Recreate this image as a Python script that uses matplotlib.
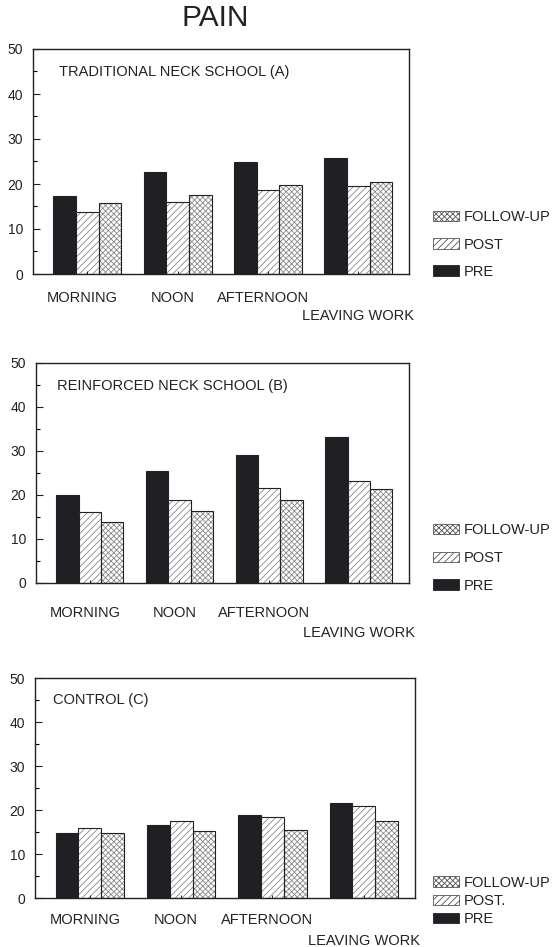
import matplotlib
matplotlib.use("Agg")
import matplotlib.pyplot as plt
from matplotlib.patches import Patch
import numpy as np

plt.rcParams['font.family'] = ['Liberation Sans', 'DejaVu Sans']
plt.rcParams['hatch.linewidth'] = 0.6

# ---- data ----
title = "PAIN"
categories = ["MORNING", "NOON", "AFTERNOON", "LEAVING WORK"]
panel_titles = ["TRADITIONAL NECK SCHOOL (A)", "REINFORCED NECK SCHOOL (B)", "CONTROL (C)"]
series_names = ["PRE", "POST", "FOLLOW-UP"]
post_labels = ["POST", "POST", "POST."]

pre_a = [17.3, 22.6, 24.8, 25.8]
post_a = [13.7, 15.9, 18.6, 19.6]
fu_a = [15.8, 17.6, 19.7, 20.5]

pre_b = [19.9, 25.5, 29.2, 33.2]
post_b = [16.2, 18.8, 21.5, 23.2]
fu_b = [13.9, 16.4, 18.9, 21.3]

pre_c = [14.7, 16.6, 18.8, 21.7]
post_c = [15.8, 17.4, 18.5, 21.0]
fu_c = [14.7, 15.2, 15.4, 17.5]

yticks = [0, 10, 20, 30, 40, 50]

# ---- layout ----
W, H = 552, 947
fig = plt.figure(figsize=(W / 100, H / 100), dpi=100)

def fbox(l, t, r, b):
    return [l / W, 1 - b / H, (r - l) / W, (b - t) / H]

axes_boxes = [fbox(33, 49, 409, 274), fbox(36, 363, 409, 583), fbox(35, 678, 415, 898)]
title_offsets = [(26, 23), (21, 23), (18, 22)]          # px from top-left of axes
label_gaps = [(24, 42), (30, 50), (22, 43)]               # px below axis
legend_pos = [(433, 244.5, 0.9), (433, 558, 0.93), (433, 901, 0.3)]

pre_color = '#1f1f24'
hatch_gray = '#8a8a8a'
edge = '#222222'

data = [(pre_a, post_a, fu_a), (pre_b, post_b, fu_b), (pre_c, post_c, fu_c)]

fig.text(215 / W, 1 - 18 / H, title, ha='center', va='center', fontsize=21.5, color='#222')

bw = 0.25
for k, (pre, post, fu) in enumerate(data):
    ax = fig.add_axes(axes_boxes[k])
    x = np.arange(len(categories))
    ax.bar(x - bw, pre, bw, color=pre_color, edgecolor=edge, linewidth=0.8)
    # hatched fills
    ax.bar(x, post, bw, color='white', edgecolor=hatch_gray, linewidth=0, hatch='/////')
    ax.bar(x + bw, fu, bw, color='white', edgecolor=hatch_gray, linewidth=0, hatch='xxxxxx')
    # outlines
    ax.bar(x, post, bw, fill=False, edgecolor=edge, linewidth=0.8)
    ax.bar(x + bw, fu, bw, fill=False, edgecolor=edge, linewidth=0.8)

    ax.set_xlim(-0.6, 3.56)
    ax.set_ylim(0, 50)
    ax.set_yticks(yticks)
    ax.set_yticks([5, 15, 25, 35, 45], minor=True)
    ax.tick_params(axis='y', which='major', direction='in', length=5, width=0.8,
                   labelsize=10, pad=7, colors='#222')
    ax.tick_params(axis='y', which='minor', direction='in', length=3, width=0.8)
    ax.set_xticks(x)
    ax.set_xticklabels([])
    ax.tick_params(axis='x', direction='in', length=2, width=0.6)
    for s in ax.spines.values():
        s.set_linewidth(1.0)
        s.set_color('#222')

    gy1, gy2 = label_gaps[k]
    for i, c in enumerate(categories):
        last = (i == len(categories) - 1)
        dy = gy2 if last else gy1
        dx = 0 if last else -5
        ax.annotate(c, xy=(x[i], 0), xycoords=('data', 'axes fraction'),
                    xytext=(dx * 0.72, -dy * 0.72), textcoords='offset points',
                    ha='center', va='center', fontsize=10.5, color='#222')

    ox, oy = title_offsets[k]
    ax.annotate(panel_titles[k], xy=(0, 1), xycoords='axes fraction',
                xytext=(ox * 0.72, -oy * 0.72), textcoords='offset points',
                ha='left', va='center', fontsize=10.5, color='#222')

    lx, ly, sp = legend_pos[k]
    handles = [
        Patch(facecolor='white', edgecolor='#555', hatch='xxxxxx', linewidth=0.6),
        Patch(facecolor='white', edgecolor='#555', hatch='/////', linewidth=0.6),
        Patch(facecolor=pre_color, edgecolor=edge, linewidth=0.6),
    ]
    labels = [series_names[2], post_labels[k], series_names[0]]
    fig.legend(handles, labels, loc='center left', bbox_to_anchor=(lx / W, 1 - ly / H),
               frameon=False, fontsize=10.5, handlelength=1.75, handleheight=0.7,
               handletextpad=0.35, labelspacing=sp, borderpad=0, borderaxespad=0,
               labelcolor='#222')

fig.savefig("out.png", dpi=100)
